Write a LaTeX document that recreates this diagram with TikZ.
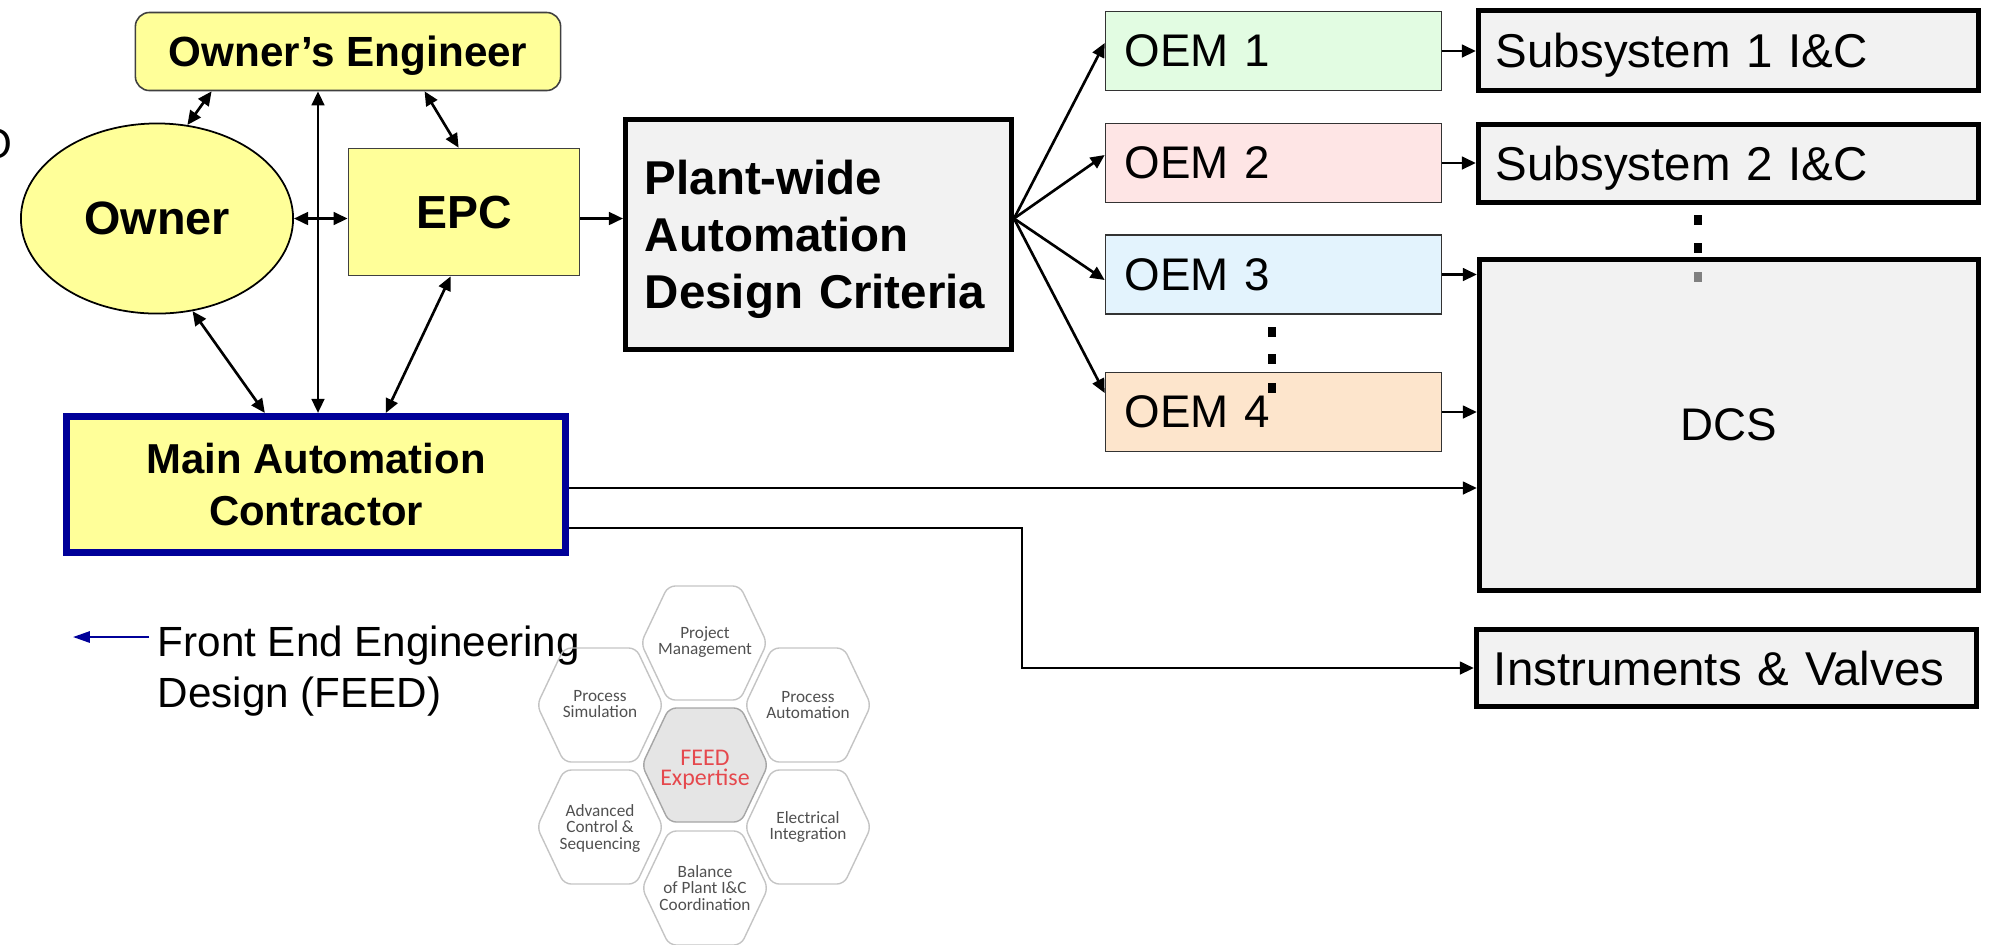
\documentclass[tikz,border=0pt]{standalone}
\usepackage{fontspec}
\setmainfont{Liberation Sans}
\newfontfamily\hexfont{Carlito}
\usetikzlibrary{arrows.meta,calc,shapes.geometric}
\definecolor{ylw}{HTML}{FFFF99}
\definecolor{boxgrey}{HTML}{F2F2F2}
\definecolor{macblue}{HTML}{000099}
\definecolor{oemA}{HTML}{E2FCE2}
\definecolor{oemB}{HTML}{FEE5E5}
\definecolor{oemC}{HTML}{E3F3FD}
\definecolor{oemD}{HTML}{FDE5CC}
\definecolor{hexline}{HTML}{C4C4C4}
\definecolor{hextext}{HTML}{505050}
\definecolor{feedred}{HTML}{E5484D}
\begin{document}
\begin{tikzpicture}[x=0.01cm,y=-0.01cm,
  tip/.tip={Triangle[length=4pt,width=3.6pt]},
  conn/.style={line width=0.75pt,-tip},
  bconn/.style={line width=0.75pt,tip-tip},
  ybox/.style={draw=black!75,fill=ylw,line width=0.45pt,font=\bfseries\fontsize{13.2}{15}\selectfont,text depth=0pt,inner sep=0pt},
  oembox/.style={draw=black!80,line width=0.4pt,minimum width=3.36cm,minimum height=0.79cm,text width=2.97cm,inner xsep=0.19cm,inner ysep=0pt,align=left,font=\fontsize{13}{15}\selectfont,text depth=0pt},
  greybox/.style={draw=black,fill=boxgrey,line width=1.42pt,align=left,font=\fontsize{13.5}{16}\selectfont,text depth=0pt,inner xsep=0.175cm,inner ysep=0pt,text width=4.65cm,minimum width=5cm},
  hexcell/.style={draw=hexline,line width=0.4pt,rounded corners=2pt},
  hexlabel/.style={text=hextext,font=\hexfont\fontsize{4.9}{4.7}\selectfont,align=center,inner sep=0pt}]
\useasboundingbox (0,0) rectangle (1992,944);

% partial letter at left edge
\node[font=\fontsize{12}{14}\selectfont,anchor=base east,inner sep=0pt] (cutO) at (13,158) {O};

% left cluster
\node[ybox,rounded corners=4pt,minimum width=4.25cm,minimum height=0.78cm,font=\bfseries\fontsize{12}{14}\selectfont] (oe) at (348,51.5) {Owner’s Engineer};
\node[ellipse,draw=black,fill=ylw,line width=0.5pt,minimum width=2.72cm,minimum height=1.90cm,inner sep=0pt,font=\bfseries\fontsize{13.3}{15}\selectfont] (owner) at (157,218.5) {Owner};
\node[ybox,minimum width=2.31cm,minimum height=1.27cm] (epc) at (464,212) {EPC};
\node[draw=macblue,fill=ylw,line width=2pt,minimum width=4.99cm,minimum height=1.36cm,align=center,font=\bfseries\fontsize{11.9}{14.8}\selectfont,text depth=0pt,inner sep=0pt] (mac) at (316,484.5) {Main Automation\\Contractor};

% plant-wide
\node[draw=black,fill=boxgrey,line width=1.35pt,minimum width=3.86cm,minimum height=2.30cm,text width=3.47cm,inner xsep=0.195cm,inner ysep=0pt,align=left,font=\bfseries\fontsize{13.5}{16.2}\selectfont,text height=9.7pt,text depth=32.4pt] (plant) at (818.5,234.5) {Plant-wide\\Automation\\Design Criteria};

% OEMs
\node[oembox,fill=oemA] (oem1) at (1273.5,51) {OEM 1};
\node[oembox,fill=oemB] (oem2) at (1273.5,163) {OEM 2};
\node[oembox,fill=oemC] (oem3) at (1273.5,274.5) {OEM 3};
\node[oembox,fill=oemD] (oem4) at (1273.5,412) {OEM 4};

% right column
\node[greybox,minimum height=0.80cm] (sub1) at (1728.5,50.5) {Subsystem 1 I\&C};
\node[greybox,minimum height=0.78cm] (sub2) at (1728.5,163.5) {Subsystem 2 I\&C};
\node[draw=black,fill=boxgrey,line width=1.42pt,minimum width=4.99cm,minimum height=3.31cm,font=\fontsize{13}{15}\selectfont,inner sep=0pt] (dcs) at (1729,425) {DCS};
\node[greybox,minimum height=0.77cm] (inst) at (1726.5,668) {Instruments \& Valves};

% ellipsis dots
\foreach \yy in {220,248} \fill[black] (1694,\yy-5) rectangle (1702,\yy+5);
\fill[black!50] (1694,272) rectangle (1702,282);
\foreach \yy in {332,359,388} \fill[black] (1268,\yy-5) rectangle (1276,\yy+5);

% connectors in left cluster
\coordinate (vx) at (318,0);
\draw[bconn] ($(oe.south west)+(77,0)$) -- (owner.72);
\draw[bconn] (oe.south -| vx) -- (mac.north -| vx);
\draw[bconn] ($(oe.south west)+(290,0)$) -- ($(epc.north west)+(111,0)$);
\draw[bconn] (owner.east) -- (epc.west |- owner.east);
\draw[bconn] (owner.-69) -- ($(mac.north west)+(202,0)$);
\draw[bconn] ($(epc.south west)+(103,0)$) -- ($(mac.north west)+(323,0)$);
\draw[conn] (epc.east |- owner.east) -- (plant.west |- owner.east);

% fan to OEMs
\coordinate (fan) at (plant.east |- owner.east);
\draw[conn] (fan) -- ($(oem1.west)+(0,-8)$);
\draw[conn] (fan) -- ($(oem2.west)+(0,-8)$);
\draw[conn] (fan) -- ($(oem3.west)+(0,5.5)$);
\draw[conn] (fan) -- ($(oem4.west)+(0,-19)$);

% OEM outputs
\draw[conn] (oem1.east) -- (sub1.west |- oem1.east);
\draw[conn] (oem2.east) -- (sub2.west |- oem2.east);
\draw[conn] (oem3.east) -- (dcs.west |- oem3.east);
\draw[conn] (oem4.east) -- (dcs.west |- oem4.east);

% MAC outputs
\coordinate (macA) at ($(mac.east)+(0,3.5)$);
\coordinate (macB) at ($(mac.east)+(0,43.5)$);
\coordinate (bend) at (1022,0);
\draw[conn] (macA) -- (dcs.west |- macA);
\draw[conn] (macB) -- (macB -| bend) -- (bend |- inst.west) -- (inst.west);

% FEED legend
\coordinate (legA) at (149,637);
\coordinate (legB) at (73,637);
\draw[line width=0.6pt,draw=macblue,-{Triangle[length=4.8pt,width=3.2pt,fill=macblue]}] (legA) -- (legB);
\node[anchor=west,align=left,inner sep=0pt,font=\fontsize{12}{14.5}\selectfont,text depth=0pt] (legtext) at (157,667) {Front End Engineering\\Design (FEED)};

% FEED hexagons
\foreach \cx/\cy in {704/643,600/705,808/705,600/827,808/827,705/888}
  \draw[hexcell] (\cx-63,\cy) -- (\cx-36,\cy-57) -- (\cx+36,\cy-57) -- (\cx+63,\cy) -- (\cx+36,\cy+57) -- (\cx-36,\cy+57) -- cycle;
\draw[hexcell,fill=black!10,draw=black!35] (642,765) -- (669,708) -- (741,708) -- (768,765) -- (741,822) -- (669,822) -- cycle;

\node[hexlabel] (hexpm) at (705,642) {Project\\Management};
\node[hexlabel] (hexps) at (600,704) {Process\\Simulation};
\node[hexlabel] (hexpa) at (808,705) {Process\\Automation};
\node[hexlabel,text=feedred,font=\hexfont\fontsize{6.8}{5.8}\selectfont] (hexfeed) at (705,770) {FEED\\Expertise};
\node[hexlabel] (hexac) at (600,828) {Advanced\\Control \&\\Sequencing};
\node[hexlabel] (hexei) at (808,827) {Electrical\\Integration};
\node[hexlabel] (hexbp) at (705,888) {Balance\\of Plant I\&C\\Coordination};
\end{tikzpicture}
\end{document}
